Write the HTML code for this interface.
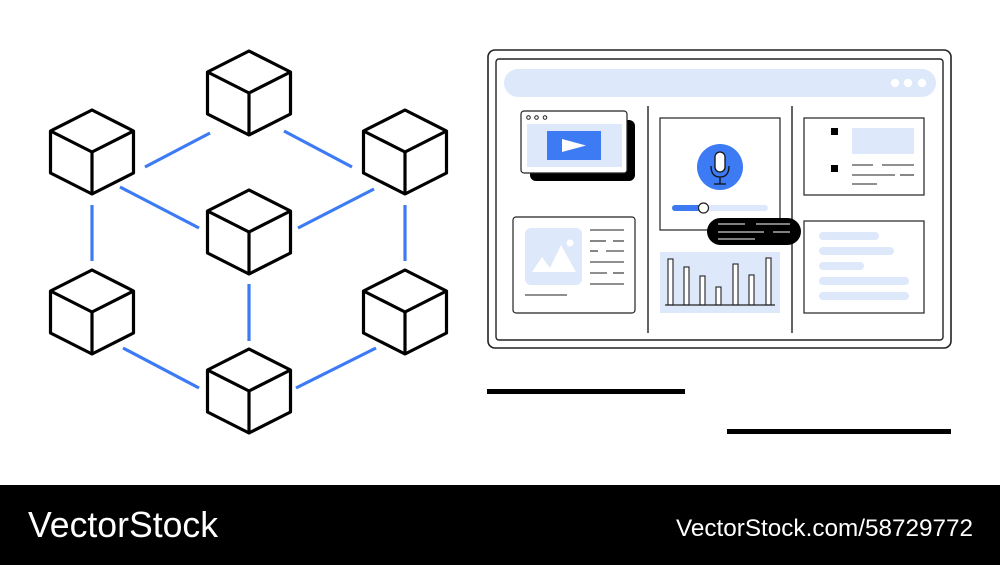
<!DOCTYPE html>
<html><head><meta charset="utf-8"><style>
html,body{margin:0;padding:0;background:#fff;width:1000px;height:565px;overflow:hidden}
svg{display:block}
</style></head><body>
<svg width="1000" height="565" viewBox="0 0 1000 565" xmlns="http://www.w3.org/2000/svg">
<defs>
<g id="cube" fill="#fff" stroke="#000" stroke-width="3.2" stroke-linejoin="round">
<path d="M0 0 L41.5 21 L41.5 63 L0 84 L-41.5 63 L-41.5 21 Z"/>
<path d="M-41.5 21 L0 42 L41.5 21 M0 42 L0 84" fill="none"/>
</g>
</defs>
<g stroke="#3d7bf5" stroke-width="3.2">
<line x1="145" y1="167" x2="210" y2="133"/>
<line x1="284" y1="131" x2="352" y2="167"/>
<line x1="120" y1="187" x2="199" y2="228"/>
<line x1="298" y1="228" x2="374" y2="189"/>
<line x1="92" y1="205" x2="92" y2="261"/>
<line x1="405" y1="205" x2="405" y2="261"/>
<line x1="249" y1="284" x2="249" y2="341"/>
<line x1="123" y1="348" x2="199" y2="388"/>
<line x1="296" y1="388" x2="376" y2="348"/>
</g>
<use href="#cube" x="249" y="51"/>
<use href="#cube" x="92" y="110"/>
<use href="#cube" x="405" y="110"/>
<use href="#cube" x="249" y="190"/>
<use href="#cube" x="92" y="270"/>
<use href="#cube" x="405" y="270"/>
<use href="#cube" x="249" y="349"/>

<!-- browser -->
<rect x="488" y="50" width="463" height="298" rx="7" fill="#fff" stroke="#222" stroke-width="1.6"/>
<rect x="496" y="59" width="447" height="281" rx="3" fill="#fff" stroke="#222" stroke-width="1.4"/>
<rect x="504" y="69" width="432" height="28" rx="14" fill="#dde8fb"/>
<circle cx="895" cy="83" r="4.2" fill="#fff"/><circle cx="908" cy="83" r="4.2" fill="#fff"/><circle cx="922" cy="83" r="4.2" fill="#fff"/>
<line x1="648" y1="106" x2="648" y2="333" stroke="#222" stroke-width="1.4"/>
<line x1="792" y1="106" x2="792" y2="333" stroke="#222" stroke-width="1.4"/>
<!-- video -->
<rect x="530" y="120" width="105" height="61" rx="6" fill="#000"/>
<rect x="521" y="111" width="106" height="62" rx="3" fill="#fff" stroke="#222" stroke-width="1.2"/>
<g fill="none" stroke="#222" stroke-width="1"><circle cx="528.5" cy="117.5" r="1.8"/><circle cx="536.5" cy="117.5" r="1.8"/><circle cx="545" cy="117.5" r="1.8"/></g>
<rect x="527" y="124" width="95" height="43" fill="#dde8fb"/>
<rect x="547" y="131" width="54" height="29" fill="#3d7bf5"/>
<path d="M562 139 L586 145.5 L562 152 Z" fill="#fff"/>
<!-- image card -->
<rect x="513" y="217" width="122" height="96" rx="3" fill="#fff" stroke="#222" stroke-width="1.2"/>
<rect x="525" y="228" width="57" height="57" rx="6" fill="#dde8fb"/>
<path d="M532 272 L542 257 L550 268 L561 245 L576 272 Z" fill="#fff"/>
<circle cx="570" cy="243" r="3.5" fill="#fff"/>
<g stroke="#222" stroke-width="1.1">
<line x1="590" y1="230" x2="624" y2="230"/><line x1="590" y1="241" x2="606" y2="241"/><line x1="613" y1="241" x2="624" y2="241"/>
<line x1="590" y1="251" x2="598" y2="251"/><line x1="606" y1="251" x2="624" y2="251"/><line x1="590" y1="262" x2="624" y2="262"/>
<line x1="590" y1="273" x2="607" y2="273"/><line x1="613" y1="273" x2="624" y2="273"/><line x1="590" y1="284" x2="624" y2="284"/>
<line x1="525" y1="295" x2="567" y2="295"/>
</g>
<!-- mic -->
<rect x="660" y="118" width="120" height="112" fill="#fff" stroke="#222" stroke-width="1.2"/>
<circle cx="720" cy="167" r="23" fill="#3d7bf5"/>
<rect x="715" y="152" width="10" height="20" rx="5" fill="#fff" stroke="#111" stroke-width="1.3"/>
<path d="M711 166 Q711 177 720 177 Q729 177 729 166 M720 177 L720 184 M714 184 L726 184" fill="none" stroke="#111" stroke-width="1.3"/>
<rect x="672" y="205" width="96" height="6" rx="3" fill="#dde8fb"/>
<rect x="672" y="205" width="32" height="6" rx="3" fill="#3d7bf5"/>
<circle cx="703.5" cy="208" r="5" fill="#fff" stroke="#222" stroke-width="1.2"/>
<rect x="707" y="218" width="94" height="27" rx="13.5" fill="#000"/>
<g stroke="#fff" stroke-width="1"><line x1="718" y1="224" x2="745" y2="224"/><line x1="756" y1="224" x2="790" y2="224"/><line x1="718" y1="232" x2="764" y2="232"/><line x1="773" y1="232" x2="790" y2="232"/><line x1="718" y1="239" x2="755" y2="239"/></g>
<!-- chart -->
<rect x="660" y="252" width="120" height="61" fill="#dde8fb"/>
<g fill="#fff" stroke="#222" stroke-width="1.1">
<rect x="668" y="259" width="5" height="46"/><rect x="684" y="267" width="5" height="38"/><rect x="700" y="276" width="5" height="29"/>
<rect x="716" y="287" width="5" height="18"/><rect x="733" y="264" width="5" height="41"/><rect x="749" y="275" width="5" height="30"/><rect x="766" y="258" width="5" height="47"/>
</g>
<line x1="665" y1="305" x2="775" y2="305" stroke="#222" stroke-width="1.2"/>
<!-- right cards -->
<rect x="804" y="118" width="120" height="77" fill="#fff" stroke="#222" stroke-width="1.2"/>
<rect x="831" y="128" width="7" height="7" fill="#000"/><rect x="831" y="165" width="7" height="7" fill="#000"/>
<rect x="852" y="128" width="62" height="26" fill="#dde8fb"/>
<g stroke="#222" stroke-width="1.1"><line x1="852" y1="165" x2="873" y2="165"/><line x1="882" y1="165" x2="914" y2="165"/><line x1="852" y1="175" x2="895" y2="175"/><line x1="900" y1="175" x2="914" y2="175"/><line x1="852" y1="184" x2="877" y2="184"/></g>
<rect x="804" y="221" width="120" height="92" fill="#fff" stroke="#222" stroke-width="1.2"/>
<g stroke="#dde8fb" stroke-width="8" stroke-linecap="round">
<line x1="823" y1="236" x2="875" y2="236"/><line x1="823" y1="251" x2="890" y2="251"/><line x1="823" y1="266" x2="860" y2="266"/><line x1="823" y1="281" x2="905" y2="281"/><line x1="823" y1="296" x2="905" y2="296"/>
</g>
<rect x="487" y="389" width="198" height="5" fill="#000"/>
<rect x="727" y="429" width="224" height="5" fill="#000"/>
<!-- footer -->
<rect x="0" y="485" width="1000" height="80" fill="#000"/>
<text x="28" y="537" font-family="Liberation Sans, sans-serif" font-size="36" fill="#fff" textLength="190" lengthAdjust="spacingAndGlyphs">VectorStock</text>
<text x="676" y="536" font-family="Liberation Sans, sans-serif" font-size="24" fill="#fff" textLength="297" lengthAdjust="spacingAndGlyphs">VectorStock.com/58729772</text>
</svg>
</body></html>
